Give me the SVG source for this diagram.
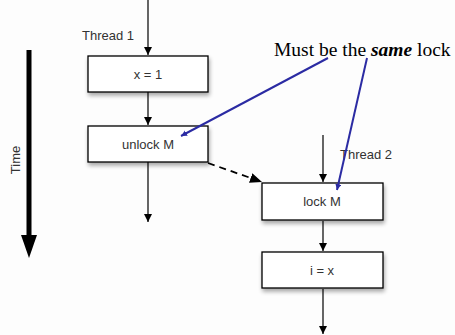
<svg xmlns="http://www.w3.org/2000/svg" width="455" height="335" viewBox="0 0 455 335">
<defs>
<filter id="sh" x="-10%" y="-20%" width="130%" height="160%">
<feGaussianBlur in="SourceAlpha" stdDeviation="2"/>
<feOffset dx="1" dy="3" result="b"/>
<feComponentTransfer><feFuncA type="linear" slope="0.35"/></feComponentTransfer>
<feMerge><feMergeNode/><feMergeNode in="SourceGraphic"/></feMerge>
</filter>
<marker id="ah" markerWidth="10" markerHeight="10" refX="8" refY="4" orient="auto" markerUnits="userSpaceOnUse">
<path d="M0,0 L8,4 L0,8 Z" fill="#000"/>
</marker>
<marker id="ahd" markerWidth="14" markerHeight="12" refX="12" refY="5" orient="auto" markerUnits="userSpaceOnUse">
<path d="M0,0 L12,5 L0,10 Z" fill="#000"/>
</marker>
<marker id="bh" markerWidth="8" markerHeight="8" refX="6" refY="3" orient="auto" markerUnits="userSpaceOnUse">
<path d="M0,0 L6,3 L0,6 Z" fill="#2b2ba3"/>
</marker>
</defs>
<style>
.box{fill:#fff;stroke:#000;stroke-width:1.3}
.lbl{font-family:"Liberation Sans",Arial,sans-serif;font-size:13px;fill:#333}
.c{stroke:#000;stroke-width:1.2;fill:none}
.blue{stroke:#2b2ba3;stroke-width:2;fill:none}
</style>
<rect width="455" height="335" fill="#fdfdfd"/>
<g id="time">
<line x1="29" y1="50" x2="29" y2="236" stroke="#000" stroke-width="5"/>
<path d="M21,235 L37,235 L29,258 Z" fill="#000"/>
<text class="lbl" transform="translate(20,160) rotate(-90)" text-anchor="middle">Time</text>
</g>
<g id="thread1-label"><text class="lbl" x="82" y="40">Thread 1</text></g>
<g id="thread2-label"><text class="lbl" x="340" y="159">Thread 2</text></g>
<g id="n-x1"><rect class="box" x="88" y="56" width="120" height="36" filter="url(#sh)"/><text class="lbl" x="148" y="79" text-anchor="middle">x = 1</text></g>
<g id="n-unlock"><rect class="box" x="88" y="126" width="120" height="36" filter="url(#sh)"/><text class="lbl" x="148" y="149" text-anchor="middle">unlock M</text></g>
<g id="n-lock"><rect class="box" x="262" y="183" width="121" height="37" filter="url(#sh)"/><text class="lbl" x="322" y="206" text-anchor="middle">lock M</text></g>
<g id="n-ix"><rect class="box" x="262" y="252" width="121" height="36" filter="url(#sh)"/><text class="lbl" x="322" y="275" text-anchor="middle">i = x</text></g>
<g id="note"><text x="274" y="56" font-family="'Liberation Serif','Times New Roman',serif" font-size="19.5" fill="#000">Must be the <tspan font-weight="bold" font-style="italic">same</tspan> lock</text></g>
<g id="connectors">
<line class="c" x1="148" y1="0" x2="148" y2="55" marker-end="url(#ah)"/>
<line class="c" x1="148" y1="92" x2="148" y2="125" marker-end="url(#ah)"/>
<line class="c" x1="148" y1="162" x2="148" y2="222" marker-end="url(#ah)"/>
<line class="c" x1="323" y1="135" x2="323" y2="182" marker-end="url(#ah)"/>
<line class="c" x1="323" y1="221" x2="323" y2="251" marker-end="url(#ah)"/>
<line class="c" x1="323" y1="289" x2="323" y2="334" marker-end="url(#ah)"/>
<line x1="208" y1="163" x2="262" y2="182" stroke="#000" stroke-width="1.8" stroke-dasharray="7,5" marker-end="url(#ahd)"/>
<line class="blue" x1="328" y1="58" x2="181" y2="136" marker-end="url(#bh)"/>
<line class="blue" x1="367" y1="58" x2="337" y2="190" marker-end="url(#bh)"/>
</g>
</svg>
